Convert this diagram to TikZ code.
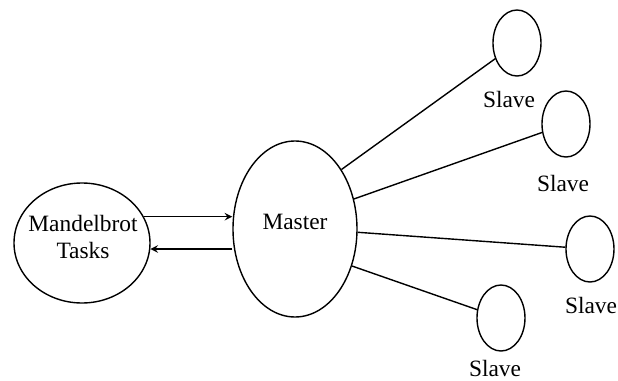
\documentclass[tikz,border=0pt]{standalone}
\usepackage{fontspec}
\setmainfont{Liberation Serif}
\usetikzlibrary{arrows,positioning,shapes.geometric}

\tikzset{
  blob/.style={draw, ellipse, inner sep=0pt, line width=0.7pt},
  slave/.style={blob, minimum width=24pt, minimum height=33pt},
  tag/.style={inner sep=1pt, font=\fontsize{11.7}{13.5}\selectfont},
  link/.style={line width=0.7pt},
}

\begin{document}
\begin{tikzpicture}[x=0.5pt,y=-0.5pt]
\useasboundingbox (0,0) rectangle (618,381);
% master and task pool
\node[blob, minimum width=68pt, minimum height=60pt] (mandel) at (82,243) {};
\node[tag, align=center] (mtext) at (83,237) {Mandelbrot\\Tasks};
\node[blob, minimum width=62pt, minimum height=88pt] (master) at (295,229) {};
\node[tag] (mastertext) at (295,222) {Master};
% slaves
\node[slave] (s1) at (517,43) {};
\node[slave] (s2) at (566,124) {};
\node[slave] (s3) at (590,249) {};
\node[slave] (s4) at (501,318) {};
\node[tag] (l1) at (509,99) {Slave};
\node[tag] (l2) at (563,183) {Slave};
\node[tag] (l3) at (591,305) {Slave};
\node[tag] (l4) at (495,368) {Slave};
% links
\draw[link] (master.52) -- (s1);
\draw[link] (master.27) -- (s2);
\draw[link] (master.-3) -- (s3);
\draw[link] (master.-33) -- (s4);
\draw[link,-stealth] (mandel.23) -- (mandel.23 -| master.west);
\draw[link,-stealth] (mandel.-5 -| master.west) -- (mandel.-5);
\end{tikzpicture}
\end{document}
